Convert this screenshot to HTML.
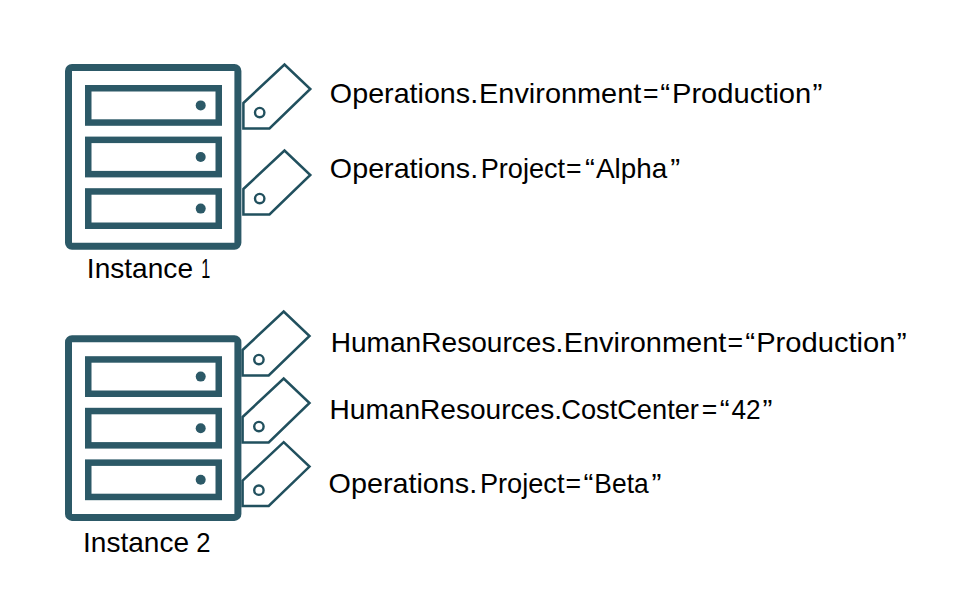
<!DOCTYPE html>
<html><head><meta charset="utf-8"><style>
html,body{margin:0;padding:0;background:#fff;}
svg{display:block;}
text{font-family:"Liberation Sans",sans-serif;font-size:28.5px;fill:#000;}
</style></head><body>
<svg width="954" height="593" viewBox="0 0 954 593">
<rect width="954" height="593" fill="#fff"/>
<rect x="68.5" y="67.50" width="169.4" height="178.7" rx="3.5" fill="none" stroke="#2C5967" stroke-width="7"/>
<rect x="88.25" y="88.25" width="130.5" height="34.3" fill="none" stroke="#2C5967" stroke-width="6.5"/>
<circle cx="200.7" cy="105.40" r="5" fill="#2C5967"/>
<rect x="88.25" y="139.85" width="130.5" height="34.3" fill="none" stroke="#2C5967" stroke-width="6.5"/>
<circle cx="200.7" cy="157.00" r="5" fill="#2C5967"/>
<rect x="88.25" y="191.45" width="130.5" height="34.3" fill="none" stroke="#2C5967" stroke-width="6.5"/>
<circle cx="200.7" cy="208.60" r="5" fill="#2C5967"/>
<rect x="68.5" y="338.70" width="169.4" height="178.7" rx="3.5" fill="none" stroke="#2C5967" stroke-width="7"/>
<rect x="88.25" y="359.45" width="130.5" height="34.3" fill="none" stroke="#2C5967" stroke-width="6.5"/>
<circle cx="200.7" cy="376.60" r="5" fill="#2C5967"/>
<rect x="88.25" y="411.05" width="130.5" height="34.3" fill="none" stroke="#2C5967" stroke-width="6.5"/>
<circle cx="200.7" cy="428.20" r="5" fill="#2C5967"/>
<rect x="88.25" y="462.65" width="130.5" height="34.3" fill="none" stroke="#2C5967" stroke-width="6.5"/>
<circle cx="200.7" cy="479.80" r="5" fill="#2C5967"/>
<polygon points="243.40,103.00 284.50,64.50 310.30,89.00 269.50,128.40 243.40,128.40" fill="none" stroke="#21505e" stroke-width="2.5" stroke-linejoin="miter"/><circle cx="259.70" cy="112.60" r="4.7" fill="none" stroke="#21505e" stroke-width="2.4"/>
<polygon points="243.40,189.00 284.50,150.50 310.30,175.00 269.50,214.40 243.40,214.40" fill="none" stroke="#21505e" stroke-width="2.5" stroke-linejoin="miter"/><circle cx="259.70" cy="198.60" r="4.7" fill="none" stroke="#21505e" stroke-width="2.4"/>
<polygon points="242.60,350.00 283.70,311.50 309.50,336.00 268.70,375.40 242.60,375.40" fill="none" stroke="#21505e" stroke-width="2.5" stroke-linejoin="miter"/><circle cx="258.90" cy="359.60" r="4.7" fill="none" stroke="#21505e" stroke-width="2.4"/>
<polygon points="242.60,417.00 283.70,378.50 309.50,403.00 268.70,442.40 242.60,442.40" fill="none" stroke="#21505e" stroke-width="2.5" stroke-linejoin="miter"/><circle cx="258.90" cy="426.60" r="4.7" fill="none" stroke="#21505e" stroke-width="2.4"/>
<polygon points="242.60,480.60 283.70,442.10 309.50,466.60 268.70,506.00 242.60,506.00" fill="none" stroke="#21505e" stroke-width="2.5" stroke-linejoin="miter"/><circle cx="258.90" cy="490.20" r="4.7" fill="none" stroke="#21505e" stroke-width="2.4"/>
<text x="329.89" y="103" textLength="148.26" lengthAdjust="spacingAndGlyphs">Operations.</text>
<text x="479.09" y="103" textLength="162.21" lengthAdjust="spacingAndGlyphs">Environment</text>
<text x="643.07" y="103" textLength="15.55" lengthAdjust="spacingAndGlyphs">=</text>
<text x="660.30" y="103" textLength="9.92" lengthAdjust="spacingAndGlyphs">“</text>
<text x="671.98" y="103" textLength="139.32" lengthAdjust="spacingAndGlyphs">Production</text>
<text x="812.50" y="103" textLength="9.92" lengthAdjust="spacingAndGlyphs">”</text>
<text x="329.89" y="178" textLength="148.26" lengthAdjust="spacingAndGlyphs">Operations.</text>
<text x="480.75" y="178" textLength="84.37" lengthAdjust="spacingAndGlyphs">Project</text>
<text x="566.07" y="178" textLength="15.55" lengthAdjust="spacingAndGlyphs">=</text>
<text x="584.95" y="178" textLength="9.92" lengthAdjust="spacingAndGlyphs">“</text>
<text x="596.00" y="178" textLength="71.21" lengthAdjust="spacingAndGlyphs">Alpha</text>
<text x="670.20" y="178" textLength="9.92" lengthAdjust="spacingAndGlyphs">”</text>
<text x="330.71" y="351.5" textLength="232.57" lengthAdjust="spacingAndGlyphs">HumanResources.</text>
<text x="563.68" y="351.5" textLength="162.72" lengthAdjust="spacingAndGlyphs">Environment</text>
<text x="727.57" y="351.5" textLength="15.55" lengthAdjust="spacingAndGlyphs">=</text>
<text x="745.25" y="351.5" textLength="9.92" lengthAdjust="spacingAndGlyphs">“</text>
<text x="756.18" y="351.5" textLength="139.32" lengthAdjust="spacingAndGlyphs">Production</text>
<text x="896.80" y="351.5" textLength="9.92" lengthAdjust="spacingAndGlyphs">”</text>
<text x="329.52" y="419" textLength="232.47" lengthAdjust="spacingAndGlyphs">HumanResources.</text>
<text x="561.24" y="419" textLength="137.70" lengthAdjust="spacingAndGlyphs">CostCenter</text>
<text x="701.67" y="419" textLength="15.55" lengthAdjust="spacingAndGlyphs">=</text>
<text x="719.70" y="419" textLength="9.92" lengthAdjust="spacingAndGlyphs">“</text>
<text x="731.50" y="419" textLength="29.15" lengthAdjust="spacingAndGlyphs">42</text>
<text x="762.50" y="419" textLength="9.92" lengthAdjust="spacingAndGlyphs">”</text>
<text x="328.59" y="492.5" textLength="148.66" lengthAdjust="spacingAndGlyphs">Operations.</text>
<text x="479.95" y="492.5" textLength="84.57" lengthAdjust="spacingAndGlyphs">Project</text>
<text x="565.62" y="492.5" textLength="15.55" lengthAdjust="spacingAndGlyphs">=</text>
<text x="583.55" y="492.5" textLength="9.92" lengthAdjust="spacingAndGlyphs">“</text>
<text x="594.37" y="492.5" textLength="54.29" lengthAdjust="spacingAndGlyphs">Beta</text>
<text x="651.45" y="492.5" textLength="9.92" lengthAdjust="spacingAndGlyphs">”</text>
<text x="86.83" y="278" textLength="106.21" lengthAdjust="spacingAndGlyphs">Instance</text>
<text x="201.36" y="278" textLength="9.03" lengthAdjust="spacingAndGlyphs">1</text>
<text x="83.03" y="551.5" textLength="106.01" lengthAdjust="spacingAndGlyphs">Instance</text>
<text x="196.20" y="551.5" textLength="14.27" lengthAdjust="spacingAndGlyphs">2</text>
</svg>
</body></html>
